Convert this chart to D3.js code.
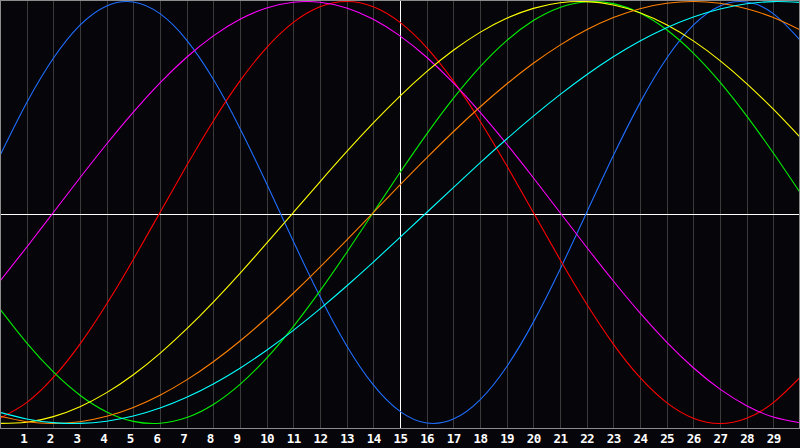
<!DOCTYPE html>
<html>
<head>
<meta charset="utf-8">
<script src="https://cdn.jsdelivr.net/npm/d3@7"></script>
<style>
  html, body { margin: 0; padding: 0; background: #060509; }
  svg { display: block; }
</style>
</head>
<body>
<svg id="chart" width="800" height="448"></svg>
<script>
// Day numbers shown on the axis
const dayLabels = d3.range(1, 30);
// Sample days (one value per day, 0..30)
const days = d3.range(0, 31);

// Curve values (−1 … +1), one per day 0..30
const physical = [0.2698,0.5196,0.7308,0.8879,0.9791,0.9977,0.9423,0.8170,0.6311,0.3984,0.1362,-0.1362,-0.3984,-0.6311,-0.8170,-0.9423,-0.9977,-0.9791,-0.8879,-0.7308,-0.5196,-0.2698,0,0.2698,0.5196,0.7308,0.8879,0.9791,0.9977,0.9423,0.8170];
const emotional = [-0.9749,-0.9010,-0.7818,-0.6235,-0.4339,-0.2225,0,0.2225,0.4339,0.6235,0.7818,0.9010,0.9749,1,0.9749,0.9010,0.7818,0.6235,0.4339,0.2225,0,-0.2225,-0.4339,-0.6235,-0.7818,-0.9010,-0.9749,-1,-0.9749,-0.9010,-0.7818];
const intellectual = [-0.4582,-0.6182,-0.7557,-0.8660,-0.9450,-0.9898,-0.9989,-0.9718,-0.9096,-0.8146,-0.6901,-0.5406,-0.3717,-0.1893,0,0.1893,0.3717,0.5406,0.6901,0.8146,0.9096,0.9718,0.9989,0.9898,0.9450,0.8660,0.7557,0.6182,0.4582,0.2817,0.0951];
const intuitive = [-0.3247,-0.1646,0,0.1646,0.3247,0.4759,0.6142,0.7357,0.8372,0.9158,0.9694,0.9966,0.9966,0.9694,0.9158,0.8372,0.7357,0.6142,0.4759,0.3247,0.1646,0,-0.1646,-0.3247,-0.4759,-0.6142,-0.7357,-0.8372,-0.9158,-0.9694,-0.9966];
const aesthetic = [-0.9993,-0.9940,-0.9675,-0.9203,-0.8536,-0.7687,-0.6673,-0.5518,-0.4244,-0.2881,-0.1456,0,0.1456,0.2881,0.4244,0.5518,0.6673,0.7687,0.8536,0.9203,0.9675,0.9940,0.9993,0.9834,0.9465,0.8894,0.8133,0.7199,0.6112,0.4894,0.3572];
const awareness = [-0.9659,-0.9914,-1,-0.9914,-0.9659,-0.9239,-0.8660,-0.7934,-0.7071,-0.6088,-0.5,-0.3827,-0.2588,-0.1305,0,0.1305,0.2588,0.3827,0.5,0.6088,0.7071,0.7934,0.8660,0.9239,0.9659,0.9914,1,0.9914,0.9659,0.9239,0.8660];
const spiritual = [-0.9473,-0.9786,-0.9960,-0.9996,-0.9890,-0.9646,-0.9267,-0.8757,-0.8125,-0.7378,-0.6528,-0.5586,-0.4566,-0.3482,-0.2349,-0.1183,0,0.1183,0.2349,0.3482,0.4566,0.5586,0.6528,0.7378,0.8125,0.8757,0.9267,0.9646,0.9890,0.9996,0.9960];

const seriesNames = ["physical","emotional","intellectual","intuitive","aesthetic","awareness","spiritual"];
const seriesValues = [physical, emotional, intellectual, intuitive, aesthetic, awareness, spiritual];
const seriesColors = ["#1f6fff","#ff0000","#00f000","#ff00ff","#ffff00","#ff8000","#00ffff"];

const W = 800, plotBottom = 428;
const svg = d3.select("#chart");

svg.append("rect").attr("width", 800).attr("height", 448).attr("fill", "#060509");

const x = d3.scaleLinear().domain([0, 30]).range([0, W]);
const y = d3.scaleLinear().domain([-1, 1]).range([423.5, 1.5]);

// vertical grid lines
svg.append("g").selectAll("line")
  .data(dayLabels.filter(d => d !== 15))
  .join("line")
  .attr("x1", d => Math.round(x(d)) + 0.5)
  .attr("x2", d => Math.round(x(d)) + 0.5)
  .attr("y1", 0).attr("y2", plotBottom)
  .attr("stroke", "#3a3a3a").attr("stroke-width", 1);

// centre cross
svg.append("line")
  .attr("x1", Math.round(x(15)) + 0.5).attr("x2", Math.round(x(15)) + 0.5)
  .attr("y1", 0).attr("y2", plotBottom)
  .attr("stroke", "#ffffff").attr("stroke-width", 1);
svg.append("line")
  .attr("x1", 0).attr("x2", W)
  .attr("y1", 214.5).attr("y2", 214.5)
  .attr("stroke", "#ffffff").attr("stroke-width", 1);

// curves
const line = d3.line()
  .x((d, i) => x(days[i]))
  .y(d => y(d))
  .curve(d3.curveNatural);

svg.append("g").selectAll("path")
  .data(seriesValues)
  .join("path")
  .attr("class", (d, i) => "series " + seriesNames[i])
  .attr("d", d => line(d))
  .attr("fill", "none")
  .attr("stroke", (d, i) => seriesColors[i])
  .attr("stroke-width", 1.1);

// frame
svg.append("rect")
  .attr("x", 0.5).attr("y", 0.5)
  .attr("width", W - 1).attr("height", plotBottom)
  .attr("fill", "none")
  .attr("stroke", "#8c8c8c").attr("stroke-width", 1);

// day labels
svg.append("g").selectAll("text")
  .data(dayLabels)
  .join("text")
  .attr("x", d => x(d) - 6.5)
  .attr("y", 443)
  .attr("fill", "#ffffff")
  .attr("font-family", "'DejaVu Sans Mono', monospace")
  .attr("font-weight", "bold")
  .attr("font-size", "12.5px")
  .attr("letter-spacing", "-0.6px")
  .text(d => d);
</script>
</body>
</html>
